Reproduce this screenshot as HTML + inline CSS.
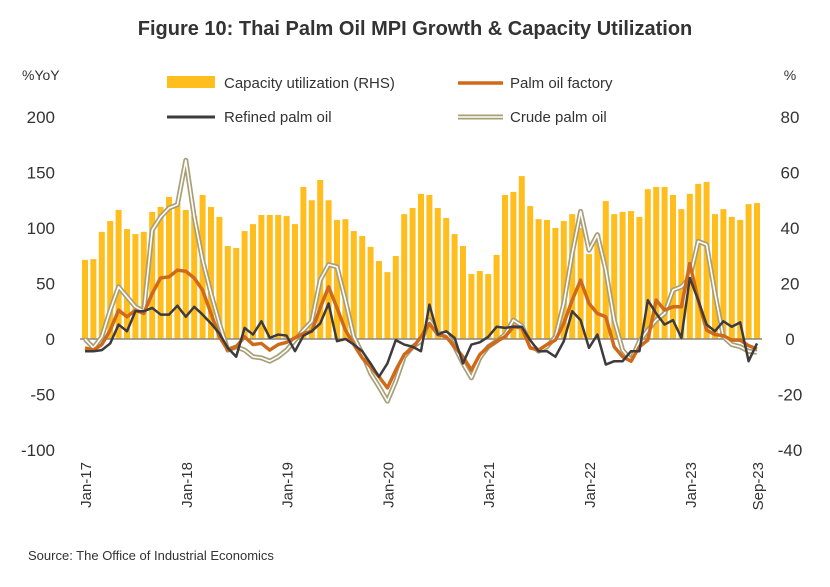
<!DOCTYPE html>
<html><head><meta charset="utf-8"><style>
body{margin:0;background:#fff;}
svg text{font-family:"Liberation Sans",sans-serif;fill:#333;}
</style></head><body>
<svg width="830" height="582" viewBox="0 0 830 582" xmlns="http://www.w3.org/2000/svg">
<text x="415" y="35" text-anchor="middle" font-size="20" font-weight="bold">Figure 10: Thai Palm Oil MPI Growth &amp; Capacity Utilization</text>
<text x="22" y="80" font-size="14">%YoY</text>
<text x="790" y="80" font-size="14" text-anchor="middle">%</text>
<g>
<rect x="167" y="76" width="48" height="12" fill="#FFBE1E"/>
<text x="224" y="88" font-size="15">Capacity utilization (RHS)</text>
<line x1="458" y1="83" x2="503" y2="83" stroke="#CF6A1A" stroke-width="3.5"/>
<text x="510" y="88" font-size="15">Palm oil factory</text>
<line x1="167" y1="117" x2="215" y2="117" stroke="#3F3A3C" stroke-width="3"/>
<text x="224" y="122" font-size="15">Refined palm oil</text>
<line x1="458" y1="117" x2="503" y2="117" stroke="#A89F77" stroke-width="5"/>
<line x1="458" y1="117" x2="503" y2="117" stroke="#fff" stroke-width="1.6"/>
<text x="510" y="122" font-size="15">Crude palm oil</text>
</g>
<g id="axes"></g>
<g id="bars"></g>
<line x1="80" y1="339" x2="762" y2="339" stroke="#8a8580" stroke-width="1.5"/>
<g id="lines"></g>
<text x="28" y="560" font-size="13">Source: The Office of Industrial Economics</text>
</svg>
<script>
const capacity=[28.5,28.8,38.6,42.5,46.5,39.6,37.8,38.6,45.8,47.6,51.2,49,46.5,44.3,51.9,47.6,44,33.5,32.8,38.9,41.4,44.7,44.7,44.7,44.3,41.4,54.8,50,57.3,50,42.9,43.2,38.9,37.1,33.2,28.1,24.1,29.9,45,47.2,52.3,51.9,47.2,43.6,37.8,33.5,23.4,24.5,23.4,30.3,51.9,53,58.7,47.9,43.2,42.9,40,42.5,45,40,30.6,37.8,49.7,45,45.8,46.1,44,54,54.8,54.8,51.9,46.8,52.3,55.9,56.6,45,46.8,44,42.9,48.6,49];
const crude=[0,-8,2,26,47,38,29,25,98,110,118,121,161,110,71,41,14,-10,-7,-10,-16,-17,-20,-16,-10,-1,8,16,53,67,65,35,2,-13,-31,-43,-56,-38,-16,-7,-2,17,5,5,-7,-22,-35,-17,-7,-2,4,17,12,-4,-11,-7,2,32,77,115,80,94,62,17,-10,-19,-2,8,17,23,44,47,55,88,85,41,2,-5,-7,-11,-12];
const factory=[-8,-10,-5,8,26,20,26,23,41,55,56,62,61,55,44,23,2,-10,-7,2,-5,-4,-10,-5,-3,1,5,7,28,47,28,8,-5,-17,-25,-34,-44,-28,-14,-8,2,14,4,2,-7,-16,-28,-14,-7,-2,2,11,10,-8,-10,-5,-1,14,35,53,32,23,20,-7,-16,-20,-7,-1,35,26,29,29,68,35,8,4,3,-1,-1,-6,-9];
const refined=[-11,-11,-10,-4,13,7,25,25,28,22,22,30,20,29,22,14,5,-8,-16,10,4,16,1,4,3,-11,3,7,14,32,-2,0,-5,-11,-22,-34,-22,-1,-5,-7,-11,31,4,7,1,-22,-5,-3,2,11,10,11,11,-1,-11,-11,-16,-2,25,17,-8,4,-23,-20,-20,-11,-11,35,23,13,17,1,55,35,13,7,16,11,15,-20,-4];
const leftTicks=[200,150,100,50,0,-50,-100];
const rightTicks=[80,60,40,20,0,-20,-40];
const xLabels=["Jan-17","Jan-18","Jan-19","Jan-20","Jan-21","Jan-22","Jan-23","Sep-23"];
const xLabelIdx=[0,12,24,36,48,60,72,80];
const NS="http://www.w3.org/2000/svg";
const X=i=>85+8.4*i, YL=v=>339-v*1.11, YR=p=>339-p*2.775;
function mk(t,a,p){const e=document.createElementNS(NS,t);for(const k in a)e.setAttribute(k,a[k]);p.appendChild(e);return e;}
const axes=document.getElementById('axes');
leftTicks.forEach(v=>{const t=mk('text',{x:55,y:YL(v)+6,'text-anchor':'end','font-size':17},axes);t.textContent=v;

});
rightTicks.forEach(v=>{const t=mk('text',{x:790,y:YR(v)+6,'text-anchor':'middle','font-size':17},axes);t.textContent=v;

});
xLabels.forEach((l,k)=>{const x=X(xLabelIdx[k])+6;const t=mk('text',{x:x,y:462,'text-anchor':'end','font-size':15,transform:`rotate(-90 ${x} 462)`},axes);t.textContent=l;

});
const bars=document.getElementById('bars');
capacity.forEach((p,i)=>{const r=mk('rect',{x:X(i)-3,y:YR(p),width:6,height:339-YR(p),fill:'#FFBE1E'},bars);

});
const lines=document.getElementById('lines');
const pts=a=>a.map((v,i)=>X(i)+','+YL(v)).join(' ');
let e;
e=mk('polyline',{points:pts(crude),fill:'none',stroke:'#A89F77','stroke-width':5,'stroke-linejoin':'round'},lines);


e=mk('polyline',{points:pts(crude),fill:'none',stroke:'#fff','stroke-width':1.6,'stroke-linejoin':'round'},lines);


e=mk('polyline',{points:pts(factory),fill:'none',stroke:'#CF6A1A','stroke-width':3.5,'stroke-linejoin':'round'},lines);


e=mk('polyline',{points:pts(refined),fill:'none',stroke:'#3F3A3C','stroke-width':2.5,'stroke-linejoin':'round'},lines);


</script>
</body></html>
